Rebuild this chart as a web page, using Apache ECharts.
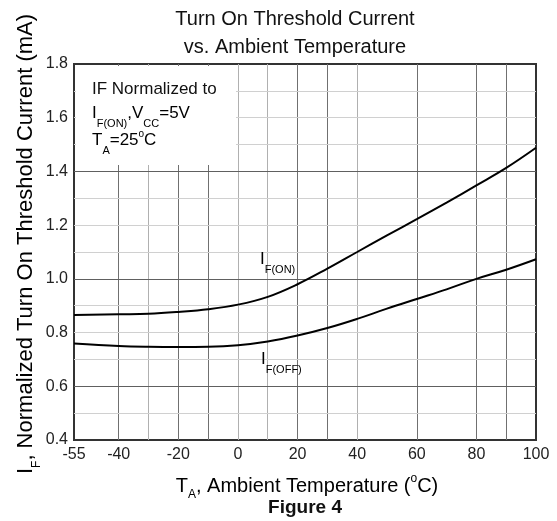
<!DOCTYPE html>
<html><head><meta charset="utf-8">
<script src="https://cdn.jsdelivr.net/npm/echarts@6/dist/echarts.min.js"></script>
<style>html,body{margin:0;padding:0;background:#fff}#c{width:557px;height:521px}</style>
</head><body><div id="c"></div>
<script>
const temps = [-55,-40,-30,-20,-10,0,10,20,30,40,50,60,70,80,90,100];
const ifOn  = [0.865,0.868,0.870,0.877,0.887,0.904,0.933,0.980,1.038,1.100,1.162,1.222,1.284,1.348,1.413,1.488];
const ifOff = [0.759,0.750,0.747,0.746,0.747,0.753,0.767,0.789,0.817,0.851,0.889,0.925,0.961,1.000,1.034,1.073];
const xTickLabels = [-55,-40,-20,0,20,40,60,80,100];
const xGridDark = [-40,-20,-10,20,30,60,80,90];
const xGridLight = [-30,0,10,40];
const yGridDark = [0.6,1.0,1.4];
const yGridLight = [0.5,0.7,0.8,0.9,1.1,1.2,1.3,1.5,1.6,1.7];

const FF = 'Liberation Sans, Arial, sans-serif';
const chart = echarts.init(document.getElementById('c'));

const gridLines = [];
xGridDark.forEach(v => gridLines.push({xAxis: v, lineStyle: {color: '#707070', width: 1, type: 'solid'}}));
xGridLight.forEach(v => gridLines.push({xAxis: v, lineStyle: {color: '#b0b0b0', width: 1, type: 'solid'}}));
yGridDark.forEach(v => gridLines.push({yAxis: v, lineStyle: {color: '#606060', width: 1, type: 'solid'}}));
yGridLight.forEach(v => gridLines.push({yAxis: v, lineStyle: {color: '#d0d0d0', width: 1, type: 'solid'}}));

const subRich = {
  m: {fontSize: 17, lineHeight: 17, verticalAlign: 'top', fontFamily: FF, color: '#111'},
  s: {fontSize: 11, lineHeight: 11, padding: [13, 0, 0, 0], verticalAlign: 'top', fontFamily: FF, color: '#111'}
};

chart.setOption({
  animation: false,
  backgroundColor: '#fff',
  title: {
    text: 'Turn On Threshold Current\nvs. Ambient Temperature',
    left: 290, top: 0, textAlign: 'center',
    textStyle: {fontFamily: FF, fontSize: 20, fontWeight: 'normal', color: '#111', lineHeight: 28}
  },
  grid: {left: 74, right: 21, top: 64, bottom: 81, show: true, borderColor: '#333', borderWidth: 2, backgroundColor: '#fff'},
  xAxis: {
    type: 'value', min: -55, max: 100,
    axisLine: {show: false}, axisTick: {show: false}, splitLine: {show: false},
    axisLabel: {customValues: xTickLabels, fontFamily: FF, fontSize: 16, color: '#222', margin: 7}
  },
  yAxis: {
    type: 'value', min: 0.4, max: 1.8, interval: 0.2,
    axisLine: {show: false}, axisTick: {show: false}, splitLine: {show: false},
    axisLabel: {fontFamily: FF, fontSize: 16, color: '#222', margin: 6, formatter: v => v.toFixed(1)}
  },
  series: [
    {type: 'line', data: temps.map((t, i) => [t, ifOn[i]]), smooth: 0.4, showSymbol: false, z: 4,
     lineStyle: {color: '#000', width: 2},
     markLine: {silent: true, symbol: 'none', label: {show: false}, z: 1, data: gridLines}},
    {type: 'line', data: temps.map((t, i) => [t, ifOff[i]]), smooth: 0.4, showSymbol: false, z: 4,
     lineStyle: {color: '#000', width: 2}}
  ],
  graphic: [
    {type: 'rect', z: 3, shape: {x: 76, y: 66, width: 160, height: 99}, style: {fill: '#fff'}},
    {type: 'text', z: 5, x: 92, y: 81, style: {text: 'IF Normalized to', fontFamily: FF, fontSize: 17, fill: '#111'}},
    {type: 'text', z: 5, x: 92, y: 105, style: {
      text: '{m|I}{s|F(ON)}{m|,V}{s|CC}{m|=5V}', rich: subRich}},
    {type: 'text', z: 5, x: 92, y: 132, style: {
      text: '{m|T}{s|A}{m|=25}{o|o}{m|C}',
      rich: Object.assign({}, subRich, {
        o: {fontSize: 10, lineHeight: 10, padding: [-3,0,0,0], verticalAlign: 'top', fontFamily: FF, color: '#111'}
      })}},
    {type: 'text', z: 5, x: 260, y: 251, style: {text: '{m|I}{s|F(ON)}', rich: subRich}},
    {type: 'text', z: 5, x: 261, y: 351, style: {text: '{m|I}{s|F(OFF)}', rich: subRich}},
    {type: 'text', z: 5, x: 307, y: 483, style: {
      text: '{m|T}{s|A}{m|, Ambient Temperature (}{o|o}{m|C)}', align: 'center', verticalAlign: 'middle',
      rich: {
        m: {fontSize: 20, lineHeight: 20, padding: [3,0,0,0], verticalAlign: 'top', fontFamily: FF, color: '#111'},
        s: {fontSize: 12, lineHeight: 12, padding: [16,0,0,0], verticalAlign: 'top', fontFamily: FF, color: '#111'},
        o: {fontSize: 12, lineHeight: 12, verticalAlign: 'top', fontFamily: FF, color: '#111'}
      }}},
    {type: 'text', z: 5, x: 305, y: 508, style: {text: 'Figure 4', align: 'center', verticalAlign: 'middle',
      fontFamily: FF, fontSize: 19, fontWeight: 'bold', fill: '#111'}},
    {type: 'text', z: 5, x: 26, y: 244, rotation: Math.PI / 2, style: {
      text: '{m|I}{s|F}{m|, Normalized Turn On Threshold Current (mA)}', align: 'center', verticalAlign: 'middle',
      rich: {
        m: {fontSize: 22, lineHeight: 22, verticalAlign: 'top', fontFamily: FF, color: '#111'},
        s: {fontSize: 12, lineHeight: 12, padding: [16,0,0,0], verticalAlign: 'top', fontFamily: FF, color: '#111'}
      }}}
  ]
});
</script></body></html>
